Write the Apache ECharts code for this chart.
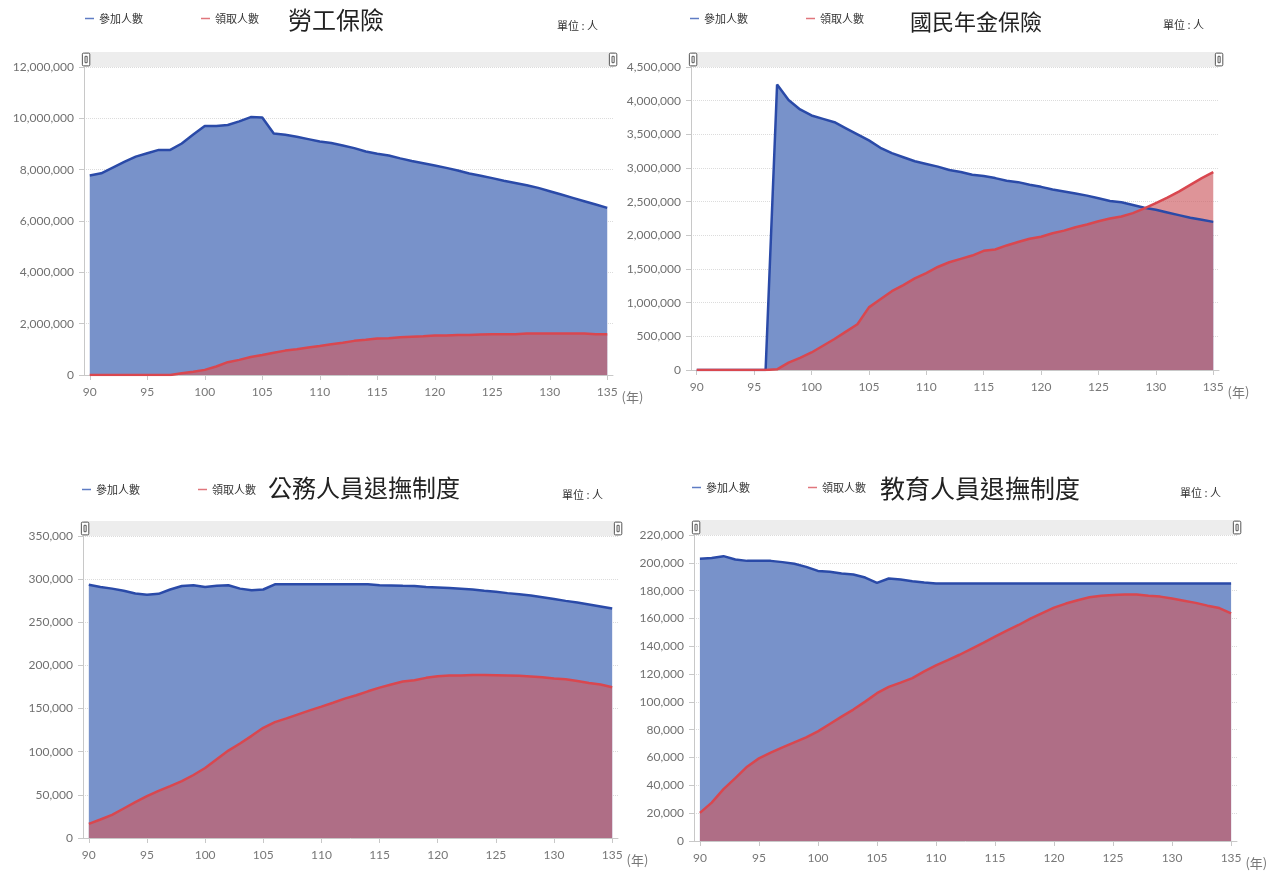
<!DOCTYPE html>
<html>
<head>
<meta charset="utf-8">
<title>參加人數與領取人數</title>
<script src="https://cdn.jsdelivr.net/npm/echarts@6/dist/echarts.min.js"></script>
<style>
  html, body { margin: 0; padding: 0; background: #fff; }
  #chart { width: 1276px; height: 873px; }
</style>
</head>
<body>
<div id="chart"></div>
<script>
// 年度 (民國)
const years = [90, 91, 92, 93, 94, 95, 96, 97, 98, 99,
  100, 101, 102, 103, 104, 105, 106, 107, 108, 109,
  110, 111, 112, 113, 114, 115, 116, 117, 118, 119,
  120, 121, 122, 123, 124, 125, 126, 127, 128, 129,
  130, 131, 132, 133, 134, 135]
const xTicks = [90, 95, 100, 105, 110, 115, 120, 125, 130, 135]

// 勞工保險
const laborJoin = [7770000, 7860000, 8080000, 8300000, 8510000, 8640000, 8770000, 8770000, 9020000, 9370000,
  9700000, 9700000, 9740000, 9880000, 10050000, 10030000, 9410000, 9360000, 9280000, 9190000,
  9100000, 9040000, 8940000, 8840000, 8710000, 8620000, 8550000, 8440000, 8340000, 8250000,
  8160000, 8070000, 7970000, 7850000, 7760000, 7670000, 7570000, 7480000, 7390000, 7290000,
  7160000, 7030000, 6900000, 6770000, 6640000, 6510000]
const laborClaim = [0, 0, 0, 0, 0, 0, 0, 0, 70000, 130000,
  200000, 330000, 500000, 590000, 700000, 780000, 870000, 950000, 1000000, 1070000,
  1130000, 1200000, 1260000, 1330000, 1370000, 1420000, 1430000, 1470000, 1490000, 1510000,
  1540000, 1540000, 1560000, 1560000, 1580000, 1590000, 1590000, 1590000, 1620000, 1620000,
  1620000, 1620000, 1620000, 1620000, 1590000, 1590000]

// 國民年金保險
const pensionJoin = [0, 0, 0, 0, 0, 0, 0, 4240000, 4010000, 3870000,
  3780000, 3730000, 3680000, 3590000, 3500000, 3410000, 3300000, 3220000, 3160000, 3100000,
  3060000, 3020000, 2970000, 2940000, 2900000, 2880000, 2850000, 2810000, 2790000, 2750000,
  2720000, 2680000, 2650000, 2620000, 2590000, 2550000, 2510000, 2490000, 2450000, 2410000,
  2380000, 2340000, 2300000, 2260000, 2230000, 2200000]
const pensionClaim = [0, 0, 0, 0, 0, 0, 0, 10000, 110000, 180000,
  260000, 360000, 460000, 570000, 680000, 930000, 1050000, 1170000, 1260000, 1360000,
  1440000, 1530000, 1600000, 1650000, 1700000, 1770000, 1790000, 1850000, 1900000, 1950000,
  1980000, 2030000, 2070000, 2120000, 2160000, 2210000, 2250000, 2280000, 2330000, 2400000,
  2480000, 2560000, 2650000, 2750000, 2850000, 2940000]

// 公務人員退撫制度
const civilJoin = [293500, 291000, 289000, 286500, 283400, 282000, 283000, 288000, 292000, 293000,
  291000, 292300, 293000, 289000, 287000, 288000, 294000, 294000, 294000, 294000,
  294000, 294000, 294000, 294000, 294000, 293000, 292700, 292300, 292000, 291000,
  290400, 289600, 288800, 288000, 286500, 285300, 283800, 282600, 281000, 279000,
  277000, 274800, 272900, 270600, 268300, 266000]
const civilClaim = [16300, 21400, 26800, 34200, 41500, 48500, 54700, 60200, 66000, 73000,
  81100, 91200, 101300, 109500, 118400, 127700, 134300, 138600, 143300, 147900,
  152200, 156800, 161500, 165400, 170000, 174300, 177800, 181300, 182900, 185600,
  187500, 188300, 188300, 189000, 189000, 188700, 188300, 187900, 187100, 186300,
  184800, 184000, 182000, 179700, 177800, 174700]

// 教育人員退撫制度
const teacherJoin = [202900, 203400, 204800, 202400, 201400, 201400, 201400, 200500, 199300, 197100,
  194200, 193500, 192300, 191600, 189400, 185600, 188700, 188000, 186800, 185800,
  185100, 185100, 185100, 185100, 185100, 185100, 185100, 185100, 185100, 185100,
  185100, 185100, 185100, 185100, 185100, 185100, 185100, 185100, 185100, 185100,
  185100, 185100, 185100, 185100, 185100, 185100]
const teacherClaim = [20200, 27600, 37300, 45200, 53400, 59400, 63500, 67300, 70900, 74500,
  78800, 84100, 89400, 94500, 100200, 106300, 110800, 113900, 117100, 121900,
  126200, 130000, 133900, 138200, 142500, 146900, 151200, 155300, 159900, 163900,
  167800, 170700, 173100, 175200, 176400, 176900, 177200, 177200, 176400, 175700,
  174300, 172800, 171200, 169200, 167500, 163700]

const titles = ['勞工保險', '國民年金保險', '公務人員退撫制度', '教育人員退撫制度']
const seriesNames = ['參加人數', '領取人數']
const unitText = '單位 : 人'
const yMax = [12000000, 4500000, 350000, 220000]
const yStep = [2000000, 500000, 50000, 20000]
const joinData = [laborJoin, pensionJoin, civilJoin, teacherJoin]
const claimData = [laborClaim, pensionClaim, civilClaim, teacherClaim]

// 版面位置
const boxes = [
  { grid: { left: 84, top: 67, width: 529, height: 308 }, zoomTop: 52, legend: [85, 13], title: [288, 8, 24], unit: [557, 20] },
  { grid: { left: 691, top: 67, width: 528, height: 303 }, zoomTop: 52, legend: [690, 13], title: [910, 11, 22], unit: [1163, 19] },
  { grid: { left: 83, top: 536, width: 535, height: 302 }, zoomTop: 521, legend: [82, 484], title: [268, 476, 24], unit: [562, 489] },
  { grid: { left: 694, top: 535, width: 543, height: 306 }, zoomTop: 520, legend: [692, 482], title: [880, 476, 25], unit: [1180, 487] }
]

const numFont = "Lato, 'Noto Sans CJK TC', sans-serif"
const cjkFont = "'Noto Sans CJK TC', sans-serif"
const blueLine = '#2a4aa8'
const redLine = '#d9474f'

const pairs = vals => years.map((y, i) => [y, vals[i]])

const chart = echarts.init(document.getElementById('chart'))

const title = []
const legend = []
const grid = []
const xAxis = []
const yAxis = []
const dataZoom = []
const series = []

boxes.forEach((b, i) => {
  title.push({
    text: titles[i],
    left: b.title[0],
    top: b.title[1],
    padding: 0,
    textStyle: { fontSize: b.title[2], fontWeight: 'normal', color: '#222', fontFamily: cjkFont }
  })
  title.push({
    text: unitText,
    left: b.unit[0],
    top: b.unit[1],
    padding: 0,
    textStyle: { fontSize: 11, fontWeight: 'normal', color: '#333', fontFamily: cjkFont }
  })
  legend.push({
    left: b.legend[0],
    top: b.legend[1],
    padding: 0,
    itemGap: 58,
    icon: 'rect',
    itemWidth: 9,
    itemHeight: 1.5,
    textStyle: { fontSize: 11, color: '#333', fontFamily: cjkFont },
    data: [
      { name: seriesNames[0], itemStyle: { color: '#5f7cc4' } },
      { name: seriesNames[1], itemStyle: { color: '#e0767c' } }
    ]
  })
  grid.push(Object.assign({ outerBoundsMode: 'none' }, b.grid))
  xAxis.push({
    gridIndex: i,
    type: 'value',
    min: 89.5,
    max: 135.5,
    axisLine: { lineStyle: { color: '#c8c8c8' } },
    axisTick: { show: true, customValues: xTicks, length: 5, lineStyle: { color: '#c8c8c8' } },
    axisLabel: { customValues: xTicks, color: '#777', fontSize: 12, margin: 11, fontFamily: numFont },
    splitLine: { show: false },
    name: '(年)',
    nameLocation: 'end',
    nameGap: 3,
    nameTextStyle: { color: '#777', fontSize: 13, verticalAlign: 'top', padding: [16, 0, 0, 0], fontFamily: cjkFont }
  })
  yAxis.push({
    gridIndex: i,
    type: 'value',
    min: 0,
    max: yMax[i],
    interval: yStep[i],
    axisLine: { show: true, lineStyle: { color: '#c8c8c8' } },
    axisTick: { show: true, length: 5, lineStyle: { color: '#c8c8c8' } },
    axisLabel: {
      color: '#707070',
      fontSize: 12,
      margin: 10,
      fontFamily: numFont,
      formatter: v => v.toLocaleString('en-US')
    },
    splitLine: { lineStyle: { color: '#dcdcdc', type: 'dotted' } }
  })
  dataZoom.push({
    type: 'slider',
    xAxisIndex: i,
    filterMode: 'none',
    start: 0,
    end: 100,
    left: b.grid.left,
    top: b.zoomTop,
    width: b.grid.width,
    height: 15,
    backgroundColor: '#ededed',
    borderColor: 'transparent',
    fillerColor: 'rgba(0,0,0,0)',
    showDetail: false,
    showDataShadow: false,
    brushSelect: false,
    moveHandleSize: 0,
    handleIcon: 'path://M1,0H6Q7,0,7,1V11Q7,12,6,12H1Q0,12,0,11V1Q0,0,1,0ZM2.5,3H4.5V9H2.5Z',
    handleSize: '85%',
    handleStyle: { color: '#fff', borderColor: '#555', borderWidth: 1 }
  })
  series.push({
    type: 'line',
    name: seriesNames[0],
    xAxisIndex: i,
    yAxisIndex: i,
    data: pairs(joinData[i]),
    symbol: 'none',
    itemStyle: { color: blueLine },
    lineStyle: { width: 2.5, color: blueLine },
    areaStyle: { color: '#7892ca', opacity: 1 }
  })
  series.push({
    type: 'line',
    name: seriesNames[1],
    xAxisIndex: i,
    yAxisIndex: i,
    data: pairs(claimData[i]),
    symbol: 'none',
    itemStyle: { color: redLine },
    lineStyle: { width: 2.5, color: redLine },
    areaStyle: { color: 'rgba(205,90,97,0.65)', opacity: 1 }
  })
})

chart.setOption({
  animation: false,
  backgroundColor: '#fff',
  title,
  legend,
  grid,
  xAxis,
  yAxis,
  dataZoom,
  series
})

window.addEventListener('resize', () => {
  chart.resize()
})
</script>
</body>
</html>
